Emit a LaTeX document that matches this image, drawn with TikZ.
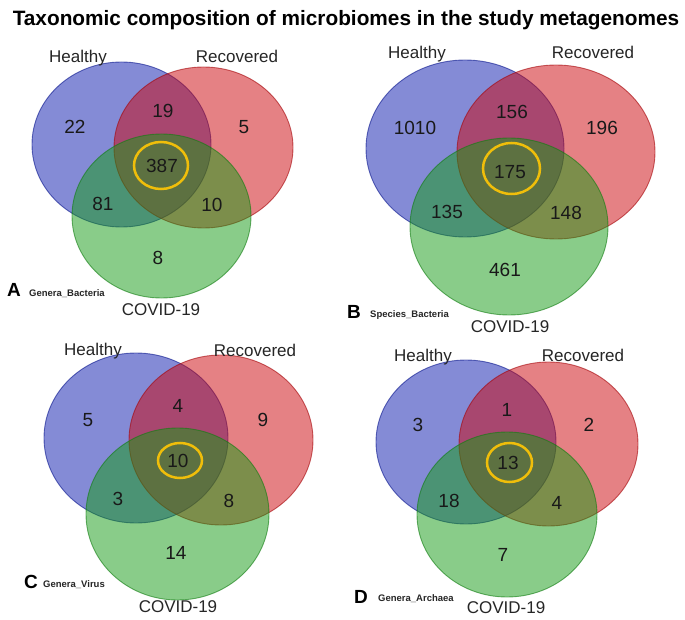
\documentclass[tikz,border=0pt]{standalone}
\usepackage{fontspec}
\setmainfont{Liberation Sans}
\usetikzlibrary{shapes.geometric}
\definecolor{hblue}{RGB}{10,25,175}
\definecolor{rred}{RGB}{205,5,10}
\definecolor{cgreen}{RGB}{20,155,20}
\definecolor{ringc}{RGB}{240,190,10}
\begin{document}
\begin{tikzpicture}[x=1pt,y=-1pt,
  vset/.style={ellipse, inner sep=0pt, draw=#1!80!black, fill=#1, fill opacity=0.5, draw opacity=0.6, line width=0.9pt},
  num/.style={font=\fontsize{19}{19}\selectfont, text=black!90, inner sep=0pt},
  lab/.style={font=\fontsize{17}{17}\selectfont, text=black!85, inner sep=0pt, anchor=base},
  ringst/.style={ellipse, inner sep=0pt, draw=ringc, line width=2.5pt},
  ptag/.style={font=\fontsize{19}{19}\selectfont\bfseries, inner sep=0pt, anchor=base west},
  psub/.style={font=\fontsize{9.5}{9.5}\selectfont\bfseries, text=black!85, inner sep=0pt, anchor=base west},
  ttl/.style={font=\fontsize{20.8}{20.8}\selectfont\bfseries, inner sep=0pt, anchor=base}]
\fill[white] (0,0) rectangle (685,620);
\useasboundingbox (0,0) rectangle (685,620);
\node[ttl] (title) at (346,26) {Taxonomic composition of microbiomes in the study metagenomes};

% ---------- Panel A ----------
\node[vset=hblue, minimum width=179pt, minimum height=165pt] (Ah) at (121.5,144.5) {};
\node[vset=rred, minimum width=179pt, minimum height=161pt] (Ar) at (203.5,147.5) {};
\node[vset=cgreen, minimum width=179pt, minimum height=164pt] (Ac) at (161.5,216) {};
\node[ringst, minimum width=54pt, minimum height=47pt] (Aring) at (161,165.5) {};
\node[lab] (AhL) at (78,62.7) {Healthy};
\node[lab] (ArL) at (237,62.7) {Recovered};
\node[lab] (AcL) at (161,315) {COVID-19};
\node[num] (A1) at (75,127) {22};
\node[num] (A2) at (163,111) {19};
\node[num] (A3) at (244,127) {5};
\node[num] (A4) at (162,166) {387};
\node[num] (A5) at (103,204) {81};
\node[num] (A6) at (212,205) {10};
\node[num] (A7) at (158,258) {8};
\node[ptag] (Atag) at (7,296.5) {A};
\node[psub] (Asub) at (29,296) {Genera\_Bacteria};

% ---------- Panel B ----------
\node[vset=hblue, minimum width=198pt, minimum height=177pt] (Bh) at (465,148.5) {};
\node[vset=rred, minimum width=198pt, minimum height=174pt] (Br) at (556,152) {};
\node[vset=cgreen, minimum width=198pt, minimum height=177pt] (Bc) at (509,226.5) {};
\node[ringst, minimum width=57pt, minimum height=51pt] (Bring) at (511.5,168.5) {};
\node[lab] (BhL) at (417,59) {Healthy};
\node[lab] (BrL) at (593,59) {Recovered};
\node[lab] (BcL) at (510,332) {COVID-19};
\node[num] (B1) at (415,128) {1010};
\node[num] (B2) at (512,112) {156};
\node[num] (B3) at (602,128) {196};
\node[num] (B4) at (510,172) {175};
\node[num] (B5) at (447,212) {135};
\node[num] (B6) at (566,213) {148};
\node[num] (B7) at (505,270) {461};
\node[ptag] (Btag) at (347,318) {B};
\node[psub] (Bsub) at (370,317.5) {Species\_Bacteria};

% ---------- Panel C ----------
\node[vset=hblue, minimum width=184pt, minimum height=170pt] (Ch) at (136,438) {};
\node[vset=rred, minimum width=184pt, minimum height=170pt] (Cr) at (221,440) {};
\node[vset=cgreen, minimum width=183pt, minimum height=172pt] (Cc) at (177.5,514) {};
\node[ringst, minimum width=44pt, minimum height=35pt] (Cring) at (180,460.5) {};
\node[lab] (ChL) at (93,355) {Healthy};
\node[lab] (CrL) at (255,356) {Recovered};
\node[lab] (CcL) at (178,612) {COVID-19};
\node[num] (C1) at (88,420) {5};
\node[num] (C2) at (178,406) {4};
\node[num] (C3) at (263,420) {9};
\node[num] (C4) at (178,461) {10};
\node[num] (C5) at (118,499) {3};
\node[num] (C6) at (229,501) {8};
\node[num] (C7) at (176,553) {14};
\node[ptag] (Ctag) at (24,588) {C};
\node[psub] (Csub) at (43,587.5) {Genera\_Virus};

% ---------- Panel D ----------
\node[vset=hblue, minimum width=180pt, minimum height=164pt] (Dh) at (466,442) {};
\node[vset=rred, minimum width=179pt, minimum height=164pt] (Dr) at (548.5,444) {};
\node[vset=cgreen, minimum width=180pt, minimum height=165pt] (Dc) at (507,514.5) {};
\node[ringst, minimum width=45pt, minimum height=39pt] (Dring) at (509.5,462.5) {};
\node[lab] (DhL) at (423,361) {Healthy};
\node[lab] (DrL) at (583,361) {Recovered};
\node[lab] (DcL) at (506,613) {COVID-19};
\node[num] (D1) at (418,425) {3};
\node[num] (D2) at (507,410) {1};
\node[num] (D3) at (589,425) {2};
\node[num] (D4) at (508,463) {13};
\node[num] (D5) at (449,501) {18};
\node[num] (D6) at (557,503) {4};
\node[num] (D7) at (503,555) {7};
\node[ptag] (Dtag) at (354,603) {D};
\node[psub] (Dsub) at (378,601) {Genera\_Archaea};
\end{tikzpicture}
\end{document}
